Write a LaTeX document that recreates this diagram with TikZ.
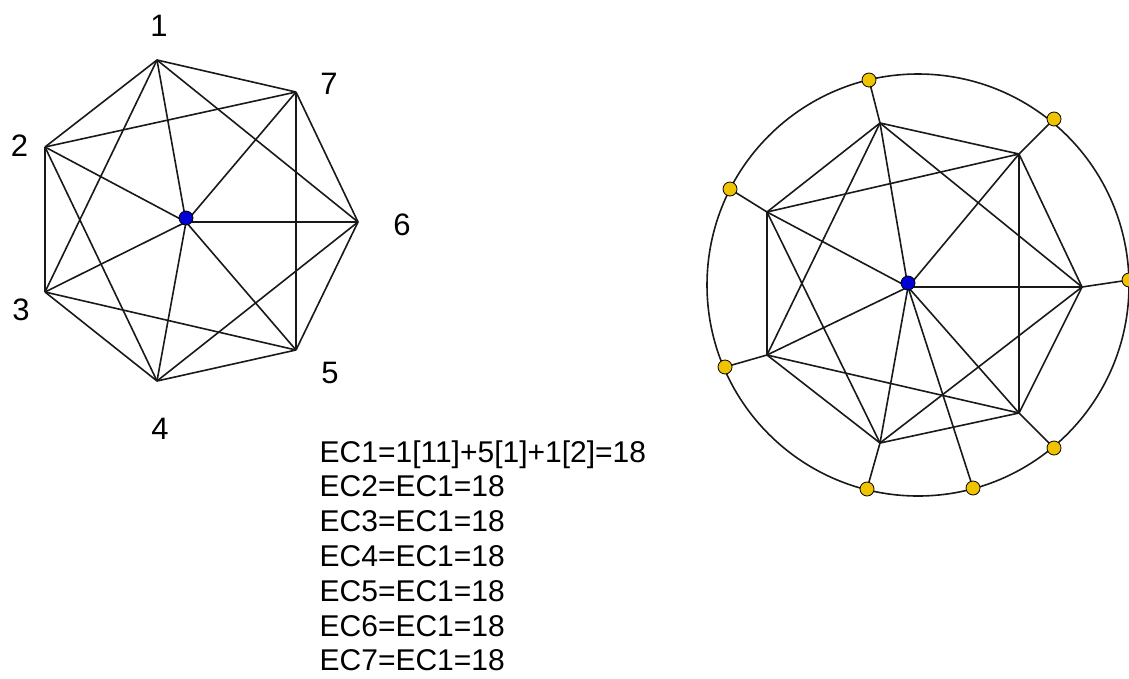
\documentclass[tikz,border=0pt]{standalone}
\usepackage{fontspec}
\setmainfont{Liberation Sans}
\definecolor{dotyellow}{RGB}{240,195,0}
\definecolor{dotblue}{RGB}{0,0,215}
\begin{document}
\begin{tikzpicture}[x=1pt,y=-1pt,
  edge/.style={draw=black!90,line width=1.6pt},
  bdot/.style={circle,draw=black,line width=0.8pt,fill=dotblue,minimum size=14pt,inner sep=0pt},
  ydot/.style={circle,draw=black,line width=0.8pt,fill=dotyellow,minimum size=14pt,inner sep=0pt},
  lbl/.style={font=\fontsize{31}{31}\selectfont,inner sep=0pt,anchor=center},
  ectext/.style={font=\fontsize{30}{35}\selectfont,inner sep=0pt,anchor=base west}]
\useasboundingbox (0,0) rectangle (1129,678);

% ---------- left graph ----------
\coordinate (l1) at (157,60);
\coordinate (l7) at (296,92);
\coordinate (l6) at (358,222);
\coordinate (l5) at (296,350);
\coordinate (l4) at (157,381);
\coordinate (l3) at (45,292);
\coordinate (l2) at (45,147);
\coordinate (lc) at (186,222);

\foreach \a/\b in {l1/l7,l7/l6,l6/l5,l5/l4,l4/l3,l3/l2,l2/l1,
                   l1/l3,l2/l4,l3/l5,l4/l6,l5/l7,l6/l1,l7/l2,
                   lc/l1,lc/l2,lc/l3,lc/l4,lc/l5,lc/l6,lc/l7}
  \draw[edge] (\a) -- (\b);
\node[bdot] (lcdot) at ([yshift=4pt]lc) {};

\node[lbl] (t1) at (159,26) {1};
\node[lbl] (t7) at (329,84) {7};
\node[lbl] (t2) at (19.5,146) {2};
\node[lbl] (t6) at (402,225) {6};
\node[lbl] (t3) at (21,310) {3};
\node[lbl] (t5) at (330,373) {5};
\node[lbl] (t4) at (160,429) {4};

% ---------- right graph ----------
\coordinate (r1) at (880,123);
\coordinate (r7) at (1019,154);
\coordinate (r6) at (1082,287);
\coordinate (r5) at (1019,413);
\coordinate (r4) at (880,443);
\coordinate (r3) at (767,355);
\coordinate (r2) at (767,212);
\coordinate (rc) at (908,287);
\coordinate (ringc) at (918,285);

\coordinate (y1) at (869,80);
\coordinate (y2) at (1054,119);
\coordinate (y3) at (1129,280);
\coordinate (y4) at (1054,448);
\coordinate (y5) at (973,488);
\coordinate (y6) at (867,489);
\coordinate (y7) at (725,367);
\coordinate (y8) at (730,189);

\draw[edge] (ringc) circle[radius=211];

\foreach \a/\b in {r1/r7,r7/r6,r6/r5,r5/r4,r4/r3,r3/r2,r2/r1,
                   r1/r3,r2/r4,r3/r5,r4/r6,r5/r7,r6/r1,r7/r2,
                   rc/r1,rc/r2,rc/r3,rc/r4,rc/r5,rc/r6,rc/r7,
                   r1/y1,r7/y2,r6/y3,r5/y4,rc/y5,r4/y6,r3/y7,r2/y8}
  \draw[edge] (\a) -- (\b);

\node[bdot] (rcdot) at ([yshift=4pt]rc) {};
\foreach \k in {1,...,8}
  \node[ydot] (yd\k) at (y\k) {};

% ---------- text ----------
\node[ectext] (ec1) at (319.5,462) {EC1=1[11]+5[1]+1[2]=18};
\foreach \k [evaluate=\k as \yy using 462+34.8*(\k-1)] in {2,...,7}
  \node[ectext] (ec\k) at (319.5,\yy) {EC\k=EC1=18};
\end{tikzpicture}
\end{document}
